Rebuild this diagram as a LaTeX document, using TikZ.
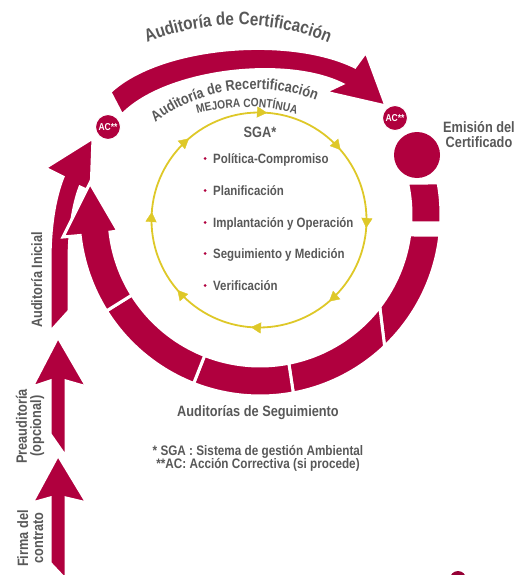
\documentclass[tikz,border=0pt]{standalone}
\usepackage{fontspec}
\setmainfont{Liberation Sans}
\newfontfamily\nar{Liberation Sans}[FakeStretch=0.85]
\usetikzlibrary{arrows.meta,decorations.text,decorations.markings,calc}
\definecolor{myred}{RGB}{176,0,62}
\definecolor{yel}{RGB}{222,200,40}
\definecolor{txt}{RGB}{88,88,88}
\newcommand{\rseg}[4]{%
  \path[seg] ($(C)+(#1:181)$) arc[start angle=#1,end angle=#2,radius=181]
    -- ($(C)+(#3:151)$) arc[start angle=#3,end angle=#4,radius=151] -- cycle;}
\begin{document}
\begin{tikzpicture}[x=1pt,y=-1pt,
  seg/.style={fill=myred,draw=white,line width=3pt,line join=miter},
  lab/.style={font=\nar\bfseries\fontsize{15}{15}\selectfont,text=txt,inner sep=0pt},
  vlab/.style={font=\nar\bfseries\fontsize{15}{15}\selectfont,text=txt,inner sep=0pt,rotate=90,anchor=base},
  item/.style={font=\nar\bfseries\fontsize{13.5}{15}\selectfont,text=txt,inner sep=0pt,anchor=base west},
  note/.style={font=\nar\bfseries\fontsize{13.8}{15}\selectfont,text=txt,inner sep=0pt,anchor=base},
  acc/.style={circle,fill=myred,draw=white,line width=1pt,minimum size=25pt,inner sep=0pt,text=white,font=\nar\bfseries\fontsize{10}{10}\selectfont},
  dotc/.style={circle,fill=myred,minimum size=46pt,inner sep=0pt}
]
\useasboundingbox (0,0) rectangle (516,575);
\begin{scope}
\clip (0,0) rectangle (516,575);
\coordinate (C) at (260,215);
\coordinate (Y) at (259,220);
% ring segments
\rseg{-10.2}{2.5}{3}{-12.2}
\rseg{6.4}{46.5}{37.5}{7.6}
\rseg{46.5}{79.4}{79}{37.5}
\rseg{79.4}{111.5}{111.5}{79}
\rseg{111.5}{148}{148}{111.5}
% Auditoria inicial arrow (behind)
\path[seg] (50,332) -- (50,262) .. controls (50,225) and (55,197) .. (63,177)
  -- (45,168) -- (93,138) -- (91,192) -- (80,187) .. controls (73,205) and (69,232) .. (69,262)
  -- (69,311) -- cycle;
% last ring segment with arrow head
\path[seg] ($(C)+(148:181)$) arc[start angle=148,end angle=173.5,radius=181]
  -- (63,237) -- (90,183) -- (118,231)
  -- ($(C)+(173.5:151)$) arc[start angle=173.5,end angle=148,radius=151] -- cycle;
% top arc: Auditoria de Certificacion
\path[seg] (110,92) .. controls (160,45) and (290,35) .. (355,67) -- (366,52) -- (386,106)
  -- (325,92) -- (342,84) .. controls (285,56) and (165,70) .. (122,115) -- cycle;
% big dot
\node[dotc] (dot) at (417,155) {};
% AC circles
\node[acc] (ac1) at (108,127) {AC**};
\node[acc] (ac2) at (395,118) {AC**};
% left vertical arrows
\path[seg] (50,434) -- (50,381) -- (32,387) -- (58,337) -- (87,387) -- (66,381) -- (66,457) -- cycle;
\path[seg] (50,563) -- (50,498) -- (32,503) -- (58,455) -- (87,503) -- (66,498) -- (66,580) -- cycle;
% small blob bottom right
\fill[myred!85!black] (458,579) circle[radius=8];
% yellow cycle
\draw[yel,line width=1.8pt] ($(Y)+(-90:107.5)$) arc[start angle=-90,end angle=270,radius=107.5];
\path[decorate,decoration={markings,
   mark=between positions 0.012 and 1 step 0.125 with {\arrow[color=yel]{Triangle[length=10pt,width=11pt]}}}]
   ($(Y)+(-90:107.5)$) arc[start angle=-90,end angle=270,radius=107.5];
% curved texts
\path[decorate,decoration={text along path,text align=center,text color=txt,
   text={|\nar\bfseries\fontsize{18}{18}\selectfont|Auditoría de Certificación}}]
   ($(238,265)+(-130:240)$) arc[start angle=-130,end angle=-50,radius=240];
\path[decorate,decoration={text along path,text align=center,text color=txt,
   text={|\nar\bfseries\fontsize{15}{15}\selectfont|Auditoría de Recertificación}}]
   ($(255,254)+(-142:165)$) arc[start angle=-142,end angle=-53.4,radius=165];
\path[decorate,decoration={text along path,text align=center,text color=txt,
   text={|\nar\bfseries\fontsize{12}{12}\selectfont|MEJORA CONTÍNUA}}]
   ($(247,287)+(-120:180)$) arc[start angle=-120,end angle=-60,radius=180];
\end{scope}
% texts
\node[lab,anchor=base] (sga) at (260,137) {SGA*};
\foreach \yy/\tt [count=\i] in {163/Política-Compromiso,195/Planificación,227/Implantación y Operación,258/Seguimiento y Medición,290/Verificación}{
  \fill[myred] (205,\yy-4.5) circle[radius=1.5];
  \node[item] (it\i) at (213,\yy) {\tt};
}
\node[lab,anchor=base] (emi1) at (479,132) {Emisión del};
\node[lab,anchor=base] (emi2) at (479,147) {Certificado};
\node[lab,anchor=base] (aseg) at (258,416) {Auditorías de Seguimiento};
\node[note] (n1) at (258,455) {* SGA : Sistema de gestión Ambiental};
\node[note] (n2) at (258,468) {**AC: Acción Correctiva (si procede)};
\node[vlab] (ai) at (42,280) {Auditoría Inicial};
\node[vlab] (pre1) at (27,426.5) {Preauditoría};
\node[vlab] (pre2) at (41,426) {(opcional)};
\node[vlab] (fir1) at (28,538.5) {Firma del};
\node[vlab] (fir2) at (43,538) {contrato};
\end{tikzpicture}
\end{document}
